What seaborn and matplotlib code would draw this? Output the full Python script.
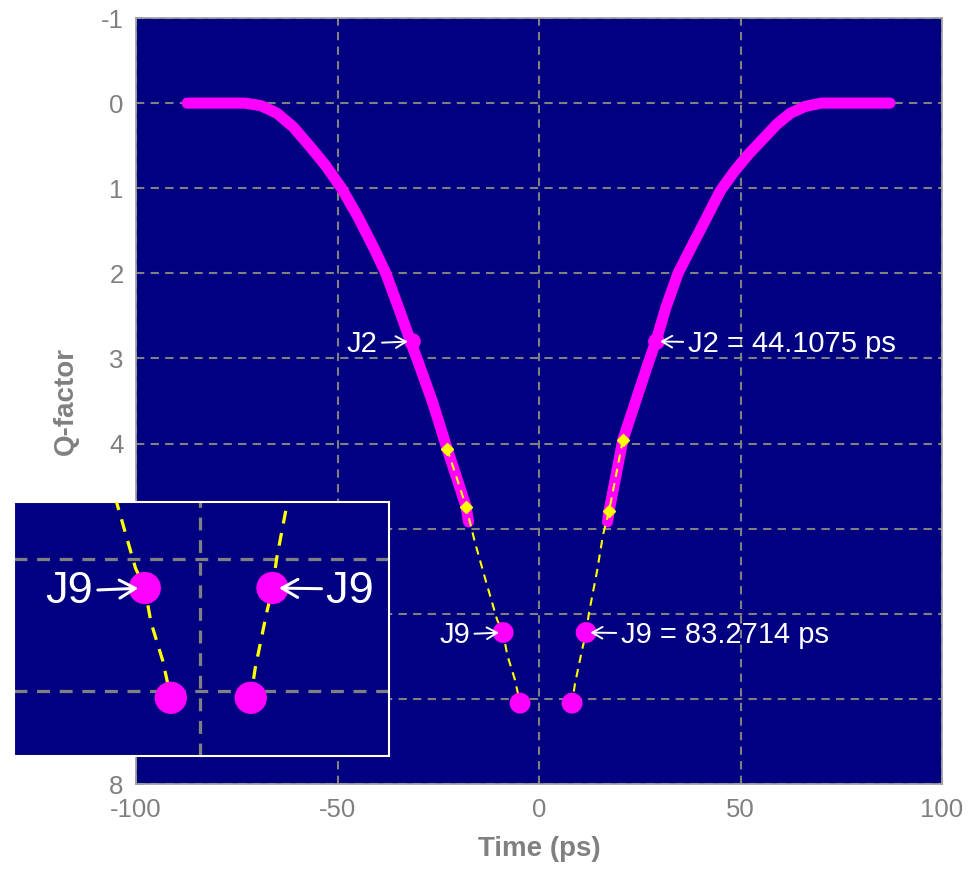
import seaborn as sns
import pandas as pd
import numpy as np
import matplotlib.pyplot as plt

# bathtub curve: time (ps) vs Q-factor
left_t = [-87.3, -80.0, -73.0, -69.0, -65.0, -61.0, -57.0, -53.0, -49.0, -45.0,
          -41.0, -38.0, -34.5, -31.5, -30.3, -26.5, -22.8, -20.3, -18.1, -17.5]
left_q = [0.0, 0.0, 0.0, 0.03, 0.12, 0.28, 0.50, 0.73, 1.0, 1.33,
          1.70, 2.0, 2.45, 2.85, 3.0, 3.5, 4.06, 4.42, 4.74, 4.92]
right_t = [87.1, 80.0, 70.0, 66.0, 62.3, 59.0, 55.6, 52.0, 48.5, 45.0,
           41.0, 37.5, 34.5, 31.5, 29.0, 27.5, 24.0, 20.8, 19.0, 17.4, 17.0]
right_q = [0.0, 0.0, 0.0, 0.04, 0.12, 0.25, 0.42, 0.60, 0.80, 1.03,
           1.40, 1.72, 2.0, 2.40, 2.8, 3.0, 3.5, 3.96, 4.4, 4.79, 4.92]

# extrapolated (yellow) part
fit_left_t = [-22.8, -20.3, -18.1, -15.9, -13.4, -10.4, -8.9, -7.9, -6.0, -4.7]
fit_left_q = [4.06, 4.42, 4.74, 5.16, 5.58, 6.07, 6.22, 6.48, 6.77, 7.05]
fit_right_t = [20.8, 19.0, 17.4, 15.9, 14.4, 12.4, 11.7, 10.7, 8.9, 8.2]
fit_right_q = [3.96, 4.4, 4.79, 5.07, 5.50, 5.99, 6.22, 6.42, 6.83, 7.05]
diamond_t = [-22.8, -18.1, 20.8, 17.4]
diamond_q = [4.06, 4.74, 3.96, 4.79]

j2_t = [-31.5, 29.0]
j2_q = [2.8, 2.8]
j9_t = [-8.9, 11.7]
j9_q = [6.22, 6.22]
bottom_t = [-4.7, 8.2]
bottom_q = [7.05, 7.05]

j2_label = "J2 = 44.1075 ps"
j9_label = "J9 = 83.2714 ps"

xticks = [-100, -50, 0, 50, 100]
yticks = [-1, 0, 1, 2, 3, 4, 5, 6, 7, 8]
# 5, 6 and 7 sit under the inset in the original
yticklabels = ["-1", "0", "1", "2", "3", "4", "", "", "", "8"]

sns.set_theme(style="ticks")
plt.rcParams["font.family"] = ["Liberation Sans", "DejaVu Sans"]
plt.rcParams["axes.unicode_minus"] = False

NAVY = "#000080"
GREY = "#808080"
MAG = "#ff00ff"
YEL = "#ffff00"

curve = pd.concat([
    pd.DataFrame({"t": left_t, "q": left_q, "side": "L"}),
    pd.DataFrame({"t": right_t, "q": right_q, "side": "R"}),
])
fit = pd.concat([
    pd.DataFrame({"t": fit_left_t, "q": fit_left_q, "side": "L"}),
    pd.DataFrame({"t": fit_right_t, "q": fit_right_q, "side": "R"}),
])
dots = pd.DataFrame({"t": j9_t + bottom_t, "q": j9_q + bottom_q})


def label(ax, text, x, y, dx, k, clip=False):
    a = ax.annotate(text, xy=(x, y), xytext=(dx * k, -1.5 * k), textcoords="offset points",
                    ha="right" if dx < 0 else "left", va="center", color="white",
                    fontsize=21 * k, zorder=6, annotation_clip=False,
                    arrowprops=dict(arrowstyle="->,head_length=0.35,head_width=0.2",
                                    color="white", lw=1.4 * k, shrinkA=1, shrinkB=3 * k))
    if clip:
        a.set_clip_on(True)
        a.set_clip_path(ax.patch)
        a.arrow_patch.set_clip_on(True)
        a.arrow_patch.set_clip_path(ax.patch)
    return a


def draw(ax, k, clip=False):
    ax.set_facecolor(NAVY)
    ax.grid(True, color=GREY, linestyle=(0, (4, 3)), linewidth=1.5 * k)
    ax.set_axisbelow(True)
    sns.lineplot(data=curve, x="t", y="q", units="side", estimator=None, sort=False,
                 color=MAG, linewidth=8 * k, solid_capstyle="round", ax=ax, zorder=3)
    ax.plot(j2_t, j2_q, "o", color=MAG, markersize=11 * k, zorder=3)
    sns.lineplot(data=fit, x="t", y="q", units="side", estimator=None, sort=False,
                 color=YEL, linewidth=1.5 * k, ax=ax, zorder=4)
    for line in ax.get_lines()[-2:]:
        line.set_dashes((4, 3))
    ax.plot(diamond_t, diamond_q, "D", color=YEL, markersize=6 * k, zorder=5)
    sns.scatterplot(data=dots, x="t", y="q", color=MAG, s=(15 * k) ** 2,
                    edgecolor="none", ax=ax, zorder=5)
    label(ax, "J9", j9_t[0], j9_q[0], -24, k, clip)
    label(ax, j9_label, j9_t[1], j9_q[1], 25, k, clip)


fig = plt.figure(figsize=(9.8, 8.71), dpi=100)
ax = fig.add_axes([136 / 980, 1 - 784 / 871, 806 / 980, 766 / 871])
draw(ax, 1.0)
label(ax, "J2", j2_t[0], j2_q[0], -25, 1.0)
label(ax, j2_label, j2_t[1], j2_q[1], 23, 1.0)

ax.set_xlim(-100, 100)
ax.set_ylim(8, -1)
ax.set_xticks(xticks)
ax.set_yticks(yticks, yticklabels)
ax.tick_params(direction="in", length=5, color=GREY, labelcolor=GREY, labelsize=18.5)
ax.tick_params(axis="y", pad=9)
ax.tick_params(axis="x", pad=10)
for s in ax.spines.values():
    s.set_color("#a0a0a0")
ax.set_xlabel("Time (ps)", color=GREY, fontsize=20, fontweight="bold", labelpad=10)
ax.set_ylabel("Q-factor", color=GREY, fontsize=20, fontweight="bold", labelpad=16)

# magnified inset of the bottom of the bathtub
axi = fig.add_axes([14 / 980, 1 - 756 / 871, 375 / 980, 254 / 871], zorder=5)
draw(axi, 1.55, clip=True)
axi.set_xlim(-30, 30.5)
axi.set_ylim(7.49, 5.57)
axi.set_xticks([0])
axi.set_yticks([6, 7])
axi.tick_params(length=0, labelbottom=False, labelleft=False)
axi.set_xlabel("")
axi.set_ylabel("")
for s in axi.spines.values():
    s.set_color("white")
    s.set_linewidth(1.5)

fig.savefig("out.png", dpi=100)
